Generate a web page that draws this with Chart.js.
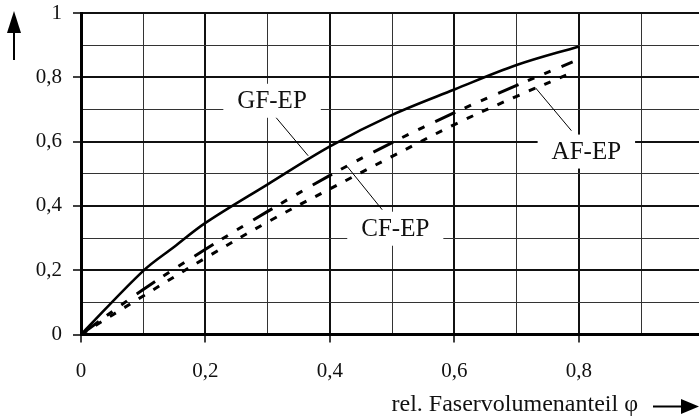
<!DOCTYPE html>
<html>
<head>
<meta charset="utf-8">
<script src="https://cdn.jsdelivr.net/npm/chart.js@4/dist/chart.umd.min.js"></script>
<style>
  html, body { margin: 0; padding: 0; background: #fff; overflow: hidden; }
  canvas { display: block; }
</style>
</head>
<body>
<canvas id="chart" width="699" height="417"></canvas>
<script>
// Data
const phiGF = [0, 0.1, 0.15, 0.2, 0.3, 0.4, 0.5, 0.6, 0.7, 0.8];
const valGF = [0, 0.198, 0.273, 0.347, 0.467, 0.585, 0.683, 0.762, 0.838, 0.896];
const phiCF = [0, 0.1, 0.2, 0.3, 0.4, 0.5, 0.6, 0.7, 0.79];
const valCF = [0, 0.14, 0.265, 0.383, 0.495, 0.597, 0.69, 0.775, 0.848];
const phiAF = [0, 0.1, 0.2, 0.3, 0.4, 0.5, 0.6, 0.7, 0.79];
const valAF = [0, 0.12, 0.238, 0.35, 0.453, 0.554, 0.653, 0.741, 0.815];

const gridSteps = [0, 0.1, 0.2, 0.3, 0.4, 0.5, 0.6, 0.7, 0.8, 0.9, 1.0];
const xTickLabels = ['0', '', '0,2', '', '0,4', '', '0,6', '', '0,8', '', ''];
const yTickLabels = ['0', '', '0,2', '', '0,4', '', '0,6', '', '0,8', '', '1'];
const xTitle = 'rel. Faservolumenanteil \u03c6';

// series labels: text, label centre, leader start, leader end (data units)
const seriesLabels = ['GF-EP', 'CF-EP', 'AF-EP'];
const labelPos = [[0.307, 0.727], [0.505, 0.329], [0.812, 0.569]];
const leaderFrom = [[0.312, 0.678], [0.484, 0.388], [0.788, 0.634]];
const leaderTo = [[0.365, 0.556], [0.428, 0.522], [0.73, 0.768]];

const serif = "'Liberation Serif', 'Times New Roman', serif";
const toXY = (xs, ys) => xs.map((x, i) => ({ x: x, y: ys[i] }));
const isMajor = v => Math.round(v * 10) % 2 === 0;

function gridWidth(ctx) { return ctx.tick && isMajor(ctx.tick.value) ? 2 : 1; }
function gridColor(ctx) { return ctx.tick && isMajor(ctx.tick.value) ? '#111' : '#333'; }
function tickColor(ctx) { return ctx.tick && isMajor(ctx.tick.value) ? '#000' : 'rgba(0,0,0,0)'; }

const decorations = {
    id: 'decorations',
    afterDatasetsDraw(chart) {
        const c = chart.ctx;
        const xs = chart.scales.x, ys = chart.scales.y;
        c.save();
        // leader lines + boxed labels
        c.font = '25px ' + serif;
        c.textAlign = 'center';
        c.textBaseline = 'middle';
        seriesLabels.forEach((txt, i) => {
            c.strokeStyle = '#000';
            c.lineWidth = 1;
            c.beginPath();
            c.moveTo(xs.getPixelForValue(leaderFrom[i][0]), ys.getPixelForValue(leaderFrom[i][1]));
            c.lineTo(xs.getPixelForValue(leaderTo[i][0]), ys.getPixelForValue(leaderTo[i][1]));
            c.stroke();
            const px = xs.getPixelForValue(labelPos[i][0]);
            const py = ys.getPixelForValue(labelPos[i][1]);
            const w = c.measureText(txt).width + 28;
            c.fillStyle = '#fff';
            c.fillRect(px - w / 2, py - 17, w, 34);
            c.fillStyle = '#111';
            c.fillText(txt, px, py + 1);
        });

        // x axis title with arrow
        c.font = '24px ' + serif;
        c.textAlign = 'right';
        c.textBaseline = 'alphabetic';
        c.fillStyle = '#111';
        c.fillText(xTitle, 638, 411);
        c.strokeStyle = '#000';
        c.lineWidth = 2;
        c.beginPath();
        c.moveTo(653, 406.5);
        c.lineTo(683, 406.5);
        c.stroke();
        c.fillStyle = '#000';
        c.beginPath();
        c.moveTo(681, 399);
        c.lineTo(699, 406.5);
        c.lineTo(681, 414);
        c.closePath();
        c.fill();

        // y arrow
        c.beginPath();
        c.moveTo(14, 60);
        c.lineTo(14, 31);
        c.stroke();
        c.beginPath();
        c.moveTo(7, 33);
        c.lineTo(14, 11);
        c.lineTo(21, 33);
        c.closePath();
        c.fill();
        c.restore();
    }
};

new Chart(document.getElementById('chart'), {
    type: 'line',
    data: {
        datasets: [
            { label: 'GF-EP', data: toXY(phiGF, valGF), borderColor: '#000', borderWidth: 2.6,
              pointRadius: 0, tension: 0.35, fill: false },
            { label: 'CF-EP', data: toXY(phiCF, valCF), borderColor: '#000', borderWidth: 3,
              borderDash: [22, 10, 7, 11, 7, 12], pointRadius: 0, tension: 0.35, fill: false },
            { label: 'AF-EP', data: toXY(phiAF, valAF), borderColor: '#000', borderWidth: 3,
              borderDash: [7, 10], pointRadius: 0, tension: 0.35, fill: false }
        ]
    },
    options: {
        responsive: false,
        animation: false,
        devicePixelRatio: 1,
        layout: { padding: { top: 13, right: 0, left: 0, bottom: 0 } },
        plugins: { legend: { display: false }, tooltip: { enabled: false } },
        scales: {
            x: {
                type: 'linear', min: 0, max: 0.993,
                afterBuildTicks: s => { s.ticks = gridSteps.filter(v => v <= 0.9).map(v => ({ value: v })); },
                afterFit: s => { s.height = 82.5; s.paddingLeft = 0; s.paddingRight = 0; },
                ticks: {
                    autoSkip: false, maxRotation: 0, padding: 16, color: '#111',
                    font: { family: serif, size: 21 },
                    callback: (v, i) => xTickLabels[i]
                },
                grid: { lineWidth: gridWidth, color: gridColor, tickColor: tickColor, tickLength: 8, tickWidth: 1.5 },
                border: { display: true, color: '#000', width: 3 }
            },
            y: {
                type: 'linear', min: 0, max: 1,
                afterBuildTicks: s => { s.ticks = gridSteps.map(v => ({ value: v })); },
                afterFit: s => { s.width = 81; s.paddingTop = 0; s.paddingBottom = 0; },
                ticks: {
                    autoSkip: false, padding: 11, color: '#111',
                    font: { family: serif, size: 21 },
                    callback: (v, i) => yTickLabels[i]
                },
                grid: { lineWidth: gridWidth, color: gridColor, tickColor: tickColor, tickLength: 8, tickWidth: 1.5 },
                border: { display: true, color: '#000', width: 3 }
            }
        }
    },
    plugins: [decorations]
});
</script>
</body>
</html>
